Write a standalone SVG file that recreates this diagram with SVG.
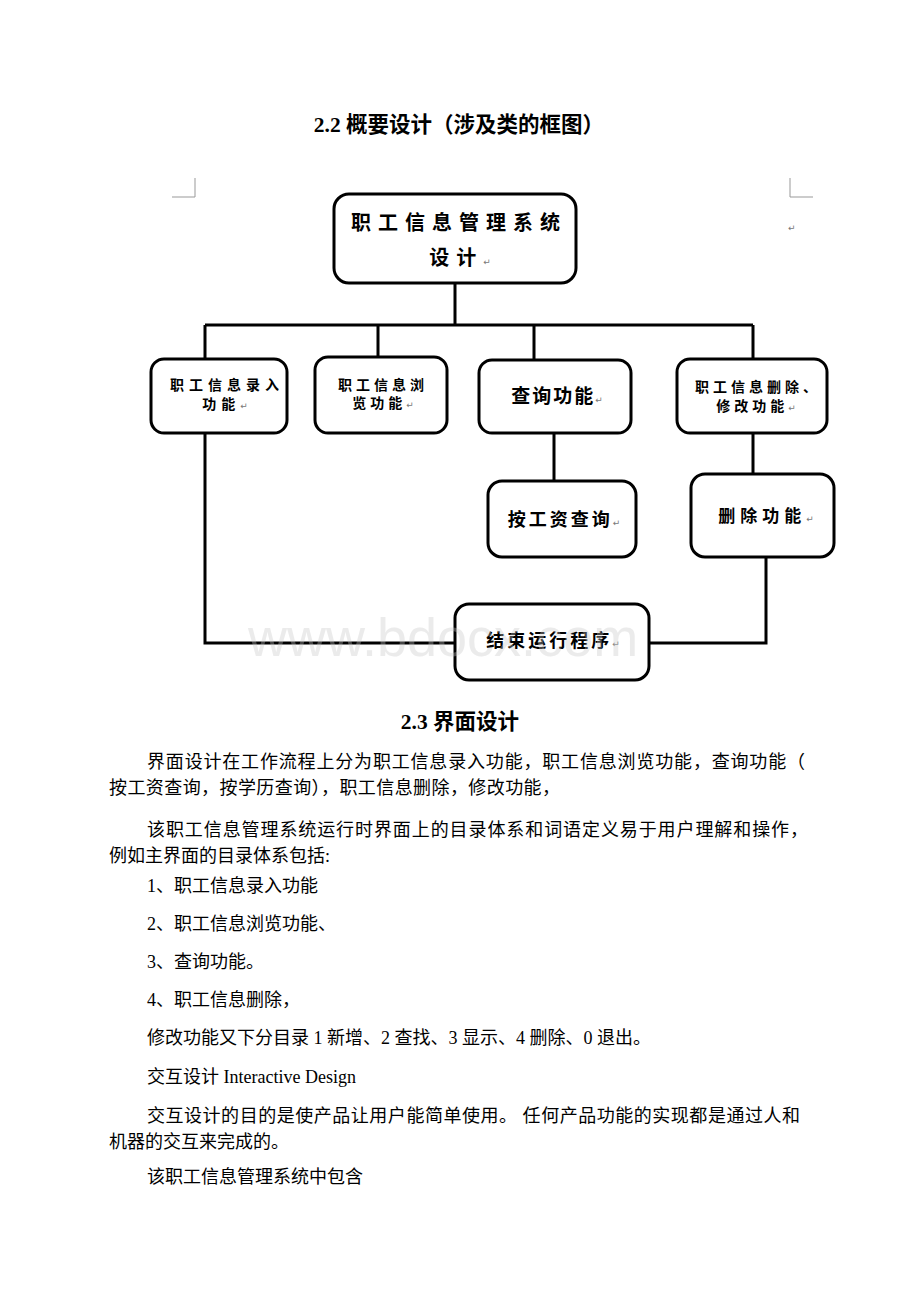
<svg xmlns="http://www.w3.org/2000/svg" width="920" height="1302" viewBox="0 0 920 1302">
<style>
.box{fill:#fff;stroke:#000;stroke-width:3}
.conn{fill:none;stroke:#000;stroke-width:3}
.crop{fill:none;stroke:#999;stroke-width:1}
.nt{font-family:"Liberation Serif","Noto Sans CJK SC",serif;font-weight:bold;fill:#000;text-anchor:middle}
.h{font-family:"Liberation Serif","Noto Sans CJK SC",serif;font-weight:bold;font-size:21.5px;fill:#000;text-anchor:middle}
.p{font-family:"Liberation Serif","Noto Sans CJK SC",serif;font-size:18px;fill:#000}
.ret{font-family:"DejaVu Sans",sans-serif;font-size:9px;fill:#777;font-weight:normal;letter-spacing:0}
.wm{font-family:"Liberation Sans",sans-serif;font-size:54px;fill:#c8c8c8;opacity:0.35}
</style>
<rect width="920" height="1302" fill="#fff"/>
<text class="h" x="459" y="132">2.2 概要设计（涉及类的框图）</text>
<g id="crop-marks">
<path class="crop" d="M195 178V197H172M790 178V197H813"/>
<text class="ret" x="788" y="231">↵</text>
</g>
<g id="connectors">
<path class="conn" d="M455 283V325M205 325H753M205 325V359M378 325V358M534 325V360M753 325V359"/>
<path class="conn" d="M554 433V481M753 433V474"/>
<path class="conn" d="M205 433V643H455M766 557V643H650"/>
</g>
<g id="n-main">
<rect class="box" x="334" y="194" width="242" height="89" rx="15"/>
<text class="nt" x="459" y="230" font-size="20" letter-spacing="7">职工信息管理系统</text>
<text class="nt" x="460" y="265" font-size="20" letter-spacing="7">设计<tspan class="ret">↵</tspan></text>
</g>
<g id="n-input">
<rect class="box" x="151" y="359" width="136" height="74" rx="13"/>
<text class="nt" x="227" y="390" font-size="14" letter-spacing="5">职工信息录入</text>
<text class="nt" x="225" y="409" font-size="14" letter-spacing="5">功能<tspan class="ret">↵</tspan></text>
</g>
<g id="n-browse">
<rect class="box" x="315" y="357" width="132" height="76" rx="13"/>
<text class="nt" x="383" y="390" font-size="14" letter-spacing="4">职工信息浏</text>
<text class="nt" x="383" y="408" font-size="14" letter-spacing="4">览功能<tspan class="ret">↵</tspan></text>
</g>
<g id="n-query">
<rect class="box" x="479" y="360" width="152" height="73" rx="13"/>
<text class="nt" x="557" y="403" font-size="19" letter-spacing="2">查询功能<tspan class="ret">↵</tspan></text>
</g>
<g id="n-delmod">
<rect class="box" x="677" y="359" width="150" height="74" rx="13"/>
<text class="nt" x="758" y="392" font-size="14" letter-spacing="4">职工信息删除、</text>
<text class="nt" x="756" y="411" font-size="14" letter-spacing="4">修改功能<tspan class="ret">↵</tspan></text>
</g>
<g id="n-salary">
<rect class="box" x="488" y="481" width="148" height="76" rx="14"/>
<text class="nt" x="564" y="526" font-size="18" letter-spacing="3">按工资查询<tspan class="ret">↵</tspan></text>
</g>
<g id="n-delete">
<rect class="box" x="691" y="474" width="143" height="83" rx="14"/>
<text class="nt" x="766" y="522" font-size="17" letter-spacing="5">删除功能<tspan class="ret">↵</tspan></text>
</g>
<g id="n-end">
<rect class="box" x="455" y="604" width="194" height="76" rx="14"/>
<text class="nt" x="553" y="647" font-size="18" letter-spacing="3">结束运行程序<tspan class="ret">↵</tspan></text>
</g>
<text class="wm" x="248" y="656">www.bdocx.com</text>
<text class="h" x="460" y="729">2.3 界面设计</text>
<text class="p" x="147" y="768" textLength="658" lengthAdjust="spacing">界面设计在工作流程上分为职工信息录入功能，职工信息浏览功能，查询功能（</text>
<text class="p" x="109" y="794" textLength="451" lengthAdjust="spacing">按工资查询，按学历查询），职工信息删除，修改功能，</text>
<text class="p" x="147" y="836" textLength="661" lengthAdjust="spacing">该职工信息管理系统运行时界面上的目录体系和词语定义易于用户理解和操作，</text>
<text class="p" x="109" y="862">例如主界面的目录体系包括:</text>
<text class="p" x="147" y="892">1、职工信息录入功能</text>
<text class="p" x="147" y="930">2、职工信息浏览功能、</text>
<text class="p" x="147" y="968">3、查询功能。</text>
<text class="p" x="147" y="1006">4、职工信息删除，</text>
<text class="p" x="147" y="1044">修改功能又下分目录 1 新增、2 查找、3 显示、4 删除、0 退出。</text>
<text class="p" x="147" y="1083">交互设计 Interactive Design</text>
<text class="p" x="147" y="1122" textLength="653" lengthAdjust="spacing">交互设计的目的是使产品让用户能简单使用。 任何产品功能的实现都是通过人和</text>
<text class="p" x="109" y="1148">机器的交互来完成的。</text>
<text class="p" x="147" y="1183">该职工信息管理系统中包含</text>
</svg>
